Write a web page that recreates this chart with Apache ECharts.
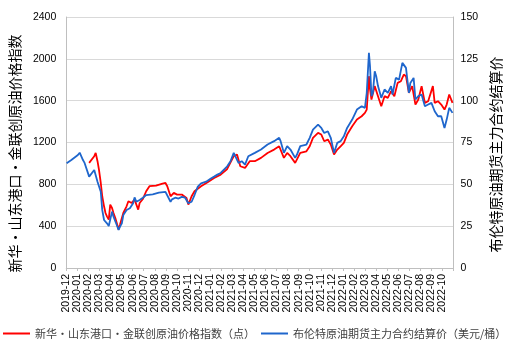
<!DOCTYPE html>
<html>
<head>
<meta charset="utf-8">
<script src="https://cdn.jsdelivr.net/npm/echarts@6/dist/echarts.min.js"></script>
<style>
  html, body { margin: 0; padding: 0; background: #fff; }
  #chart { width: 511px; height: 351px; }
</style>
</head>
<body>
<div id="chart"></div>
<script>
// month tick labels (last slot is the right edge, 2022-11)
const monthLabels = [
  '2019-12', '2020-01', '2020-02', '2020-03', '2020-04', '2020-05', '2020-06',
  '2020-07', '2020-08', '2020-09', '2020-10', '2020-11', '2020-12',
  '2021-01', '2021-02', '2021-03', '2021-04', '2021-05', '2021-06',
  '2021-07', '2021-08', '2021-09', '2021-10', '2021-11', '2021-12',
  '2022-01', '2022-02', '2022-03', '2022-04', '2022-05', '2022-06',
  '2022-07', '2022-08', '2022-09', '2022-10', ''
];

const indexName = '新华·山东港口·金联创原油价格指数（点）';
const brentName = '布伦特原油期货主力合约结算价（美元/桶）';

// 新华·山东港口·金联创原油价格指数 (left axis, points)
const indexDates = [
  '2020-02-02', '2020-02-07', '2020-02-16', '2020-02-20', '2020-02-25', '2020-02-29',
  '2020-03-05', '2020-03-09', '2020-03-14', '2020-03-18', '2020-03-22', '2020-03-27',
  '2020-03-31', '2020-04-05', '2020-04-09', '2020-04-14', '2020-04-18', '2020-04-23',
  '2020-04-27', '2020-05-06', '2020-05-15', '2020-05-20', '2020-05-29', '2020-06-06',
  '2020-06-16', '2020-06-20', '2020-06-29', '2020-07-08', '2020-07-17', '2020-08-04',
  '2020-08-22', '2020-08-30', '2020-09-04', '2020-09-13', '2020-09-22', '2020-10-01',
  '2020-10-14', '2020-10-27', '2020-11-01', '2020-11-10', '2020-11-18', '2020-12-06',
  '2020-12-24', '2021-01-11', '2021-01-29', '2021-02-16', '2021-03-06', '2021-03-15',
  '2021-03-24', '2021-04-06', '2021-04-19', '2021-05-03', '2021-05-20', '2021-06-07',
  '2021-06-25', '2021-07-09', '2021-07-22', '2021-07-31', '2021-08-09', '2021-08-22',
  '2021-09-05', '2021-09-22', '2021-10-01', '2021-10-10', '2021-10-24', '2021-11-02',
  '2021-11-10', '2021-11-20', '2021-11-28', '2021-12-07', '2021-12-16', '2021-12-25',
  '2022-01-03', '2022-01-12', '2022-01-26', '2022-02-08', '2022-02-21', '2022-03-02',
  '2022-03-07', '2022-03-13', '2022-03-16', '2022-03-20', '2022-03-29', '2022-04-07',
  '2022-04-16', '2022-04-25', '2022-05-04', '2022-05-13', '2022-05-22', '2022-05-31',
  '2022-06-09', '2022-06-17', '2022-06-23', '2022-07-01', '2022-07-10', '2022-07-19',
  '2022-07-27', '2022-08-05', '2022-08-14', '2022-08-23', '2022-09-05', '2022-09-10',
  '2022-09-19', '2022-09-28', '2022-10-07', '2022-10-13', '2022-10-20', '2022-10-29'
];
const indexValues = [
  1005, 1021, 1069, 1100, 1021, 941,
  813, 686, 590, 526, 494, 463,
  606, 574, 526, 478, 431, 367,
  415, 526, 590, 638, 622, 654,
  558, 622, 660, 734, 782, 788,
  807, 813, 782, 686, 718, 702,
  702, 670, 606, 686, 734, 782,
  820, 861, 893, 947, 1069, 1085,
  973, 957, 1021, 1021, 1053, 1100,
  1132, 1164, 1053, 1100, 1069, 1005,
  1100, 1116, 1164, 1244, 1292, 1276,
  1212, 1228, 1180, 1085, 1132, 1164,
  1196, 1276, 1356, 1420, 1451, 1483,
  1515, 1834, 1707, 1611, 1739, 1643,
  1547, 1643, 1627, 1691, 1643, 1770,
  1786, 1850, 1834, 1675, 1739, 1563,
  1611, 1739, 1579, 1595, 1739, 1579,
  1595, 1563, 1515, 1563, 1659, 1579
];

// 布伦特原油期货主力合约结算价 (right axis, USD/bbl)
const brentDates = [
  '2019-12-02', '2019-12-15', '2020-01-02', '2020-01-07', '2020-01-16', '2020-01-20',
  '2020-02-02', '2020-02-07', '2020-02-16', '2020-02-20', '2020-02-25', '2020-02-29',
  '2020-03-05', '2020-03-09', '2020-03-14', '2020-03-18', '2020-03-22', '2020-03-27',
  '2020-03-31', '2020-04-05', '2020-04-09', '2020-04-14', '2020-04-18', '2020-04-23',
  '2020-04-27', '2020-05-02', '2020-05-06', '2020-05-15', '2020-05-24', '2020-06-02',
  '2020-06-06', '2020-06-11', '2020-06-20', '2020-06-29', '2020-07-08', '2020-07-26',
  '2020-08-12', '2020-08-30', '2020-09-04', '2020-09-13', '2020-09-17', '2020-09-26',
  '2020-10-05', '2020-10-14', '2020-10-23', '2020-10-27', '2020-11-01', '2020-11-05',
  '2020-11-10', '2020-11-18', '2020-11-27', '2020-12-06', '2020-12-20', '2021-01-02',
  '2021-01-11', '2021-01-20', '2021-01-29', '2021-02-07', '2021-02-16', '2021-02-25',
  '2021-03-06', '2021-03-10', '2021-03-19', '2021-03-28', '2021-04-06', '2021-04-15',
  '2021-05-03', '2021-05-20', '2021-06-07', '2021-06-25', '2021-07-09', '2021-07-13',
  '2021-07-22', '2021-07-31', '2021-08-09', '2021-08-22', '2021-08-27', '2021-09-05',
  '2021-09-22', '2021-10-01', '2021-10-10', '2021-10-24', '2021-11-02', '2021-11-10',
  '2021-11-20', '2021-11-28', '2021-12-07', '2021-12-16', '2021-12-25', '2022-01-03',
  '2022-01-12', '2022-01-26', '2022-02-08', '2022-02-21', '2022-03-02', '2022-03-07',
  '2022-03-13', '2022-03-16', '2022-03-20', '2022-03-24', '2022-03-29', '2022-04-02',
  '2022-04-07', '2022-04-16', '2022-04-25', '2022-05-04', '2022-05-13', '2022-05-17',
  '2022-05-26', '2022-06-04', '2022-06-13', '2022-06-17', '2022-06-23', '2022-07-01',
  '2022-07-05', '2022-07-14', '2022-07-19', '2022-07-27', '2022-08-05', '2022-08-14',
  '2022-08-23', '2022-09-01', '2022-09-10', '2022-09-19', '2022-09-28', '2022-10-07',
  '2022-10-13', '2022-10-20', '2022-10-29'
];
const brentValues = [
  62.6, 64.5, 67.5, 68.9, 64.5, 63.0,
  54.6, 55.4, 58.6, 59.4, 51.6, 50.6,
  45.6, 34.7, 28.7, 28.5, 26.7, 25.1,
  24.7, 33.7, 30.7, 31.6, 25.7, 22.7,
  24.7, 26.7, 31.6, 34.7, 35.7, 38.7,
  42.2, 39.6, 40.6, 42.0, 43.6, 44.0,
  45.0, 45.5, 45.0, 39.6, 41.0, 42.0,
  41.5, 42.5, 42.0, 41.0, 38.7, 37.9,
  39.6, 43.6, 48.6, 50.6, 51.6, 53.5,
  54.6, 55.8, 56.8, 58.8, 60.8, 63.8,
  68.8, 69.8, 62.8, 63.8, 61.8, 66.8,
  68.8, 70.8, 73.8, 75.8, 77.8, 75.8,
  68.8, 72.8, 70.8, 65.8, 67.8, 72.8,
  73.8, 77.8, 82.7, 85.7, 83.7, 80.7,
  81.7, 77.8, 68.8, 74.8, 75.8, 78.7,
  83.7, 88.7, 94.7, 96.7, 95.7, 104.7,
  128.6, 120.6, 102.7, 104.7, 117.6, 114.6,
  108.7, 101.7, 106.7, 104.7, 108.7, 103.7,
  113.6, 112.6, 122.6, 123.6, 119.6, 104.7,
  110.6, 113.6, 100.7, 102.7, 103.7, 96.7,
  97.7, 98.7, 93.7, 90.7, 90.7, 83.7,
  88.7, 95.7, 92.7
];

const zip = (xs, ys) => xs.map((x, i) => [x, ys[i]]);

const chart = echarts.init(document.getElementById('chart'));
const axisGray = '#bfbfbf';
const font = 'Liberation Sans, Arial, sans-serif';
const cjk = '"Noto Sans CJK SC", sans-serif';

chart.setOption({
  animation: false,
  grid: { left: 63, right: 50, top: 17, bottom: 83 },
  legend: {
    left: 3,
    bottom: 12,
    padding: 0,
    icon: 'rect',
    itemWidth: 27,
    itemHeight: 2,
    itemGap: 6,
    textStyle: { fontSize: 11, color: '#404040', fontFamily: cjk },
    data: [indexName, brentName]
  },
  xAxis: [
    {
      type: 'category',
      data: monthLabels,
      boundaryGap: false,
      axisLine: { lineStyle: { color: axisGray } },
      axisTick: { interval: 0, length: 3, lineStyle: { color: axisGray } },
      axisLabel: {
        interval: 0, rotate: 90, fontSize: 10.5, color: '#000',
        fontFamily: font, margin: 6, padding: [0, 0, 5, 0]
      },
      splitLine: { show: false }
    },
    {
      type: 'time',
      min: '2019-12-01',
      max: '2022-11-01',
      show: false
    }
  ],
  yAxis: [
    {
      type: 'value',
      min: 0, max: 2400, interval: 400,
      name: '新华·山东港口·金联创原油价格指数',
      nameLocation: 'middle',
      nameRotate: 90,
      nameGap: 40,
      nameTextStyle: { fontSize: 14, color: '#000', fontFamily: cjk, padding: [0, 22, 0, 0] },
      axisLine: { show: true, lineStyle: { color: axisGray } },
      axisTick: { show: false },
      axisLabel: { fontSize: 10.5, color: '#000', fontFamily: font, margin: 10, formatter: v => String(v) },
      splitLine: { lineStyle: { color: '#d9d9d9' } }
    },
    {
      type: 'value',
      min: 0, max: 150, interval: 25,
      position: 'right',
      name: '布伦特原油期货主力合约结算价',
      nameLocation: 'middle',
      nameRotate: 90,
      nameGap: 33,
      nameTextStyle: { fontSize: 14, color: '#000', fontFamily: cjk, padding: [0, 24, 0, 0] },
      axisLine: { show: true, lineStyle: { color: axisGray } },
      axisTick: { show: false },
      axisLabel: { fontSize: 10.5, color: '#000', fontFamily: font, margin: 7, formatter: v => String(v) },
      splitLine: { show: false }
    }
  ],
  series: [
    {
      name: indexName,
      type: 'line',
      xAxisIndex: 1,
      yAxisIndex: 0,
      data: zip(indexDates, indexValues),
      showSymbol: false,
      lineStyle: { color: '#ff0000', width: 1.8 },
      itemStyle: { color: '#ff0000' }
    },
    {
      name: brentName,
      type: 'line',
      xAxisIndex: 1,
      yAxisIndex: 1,
      data: zip(brentDates, brentValues),
      showSymbol: false,
      lineStyle: { color: '#1f66cc', width: 1.8 },
      itemStyle: { color: '#1f66cc' }
    }
  ]
});
</script>
</body>
</html>
